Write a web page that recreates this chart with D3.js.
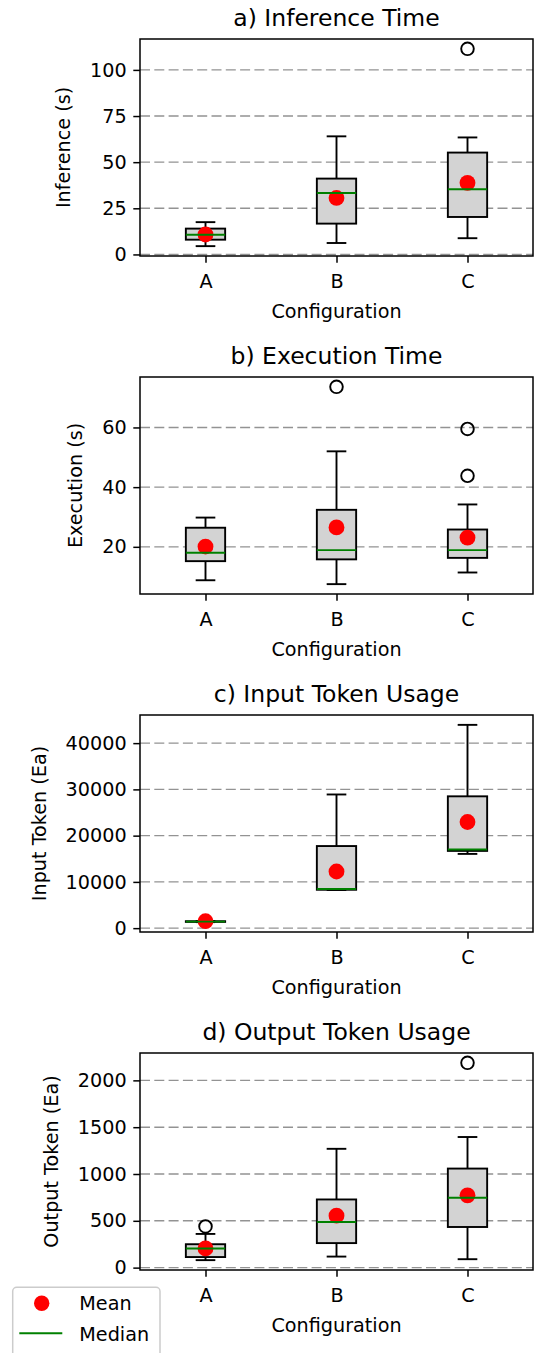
<!DOCTYPE html>
<html>
<head>
<meta charset="utf-8">
<script src="https://cdn.jsdelivr.net/npm/d3@7"></script>
<style>
  html, body { margin: 0; padding: 0; background: #fff; }
  svg { display: block; }
  text { font-family: "DejaVu Sans", sans-serif; fill: #000; }
</style>
</head>
<body>
<svg id="chart" width="540" height="1353"></svg>
<script>
// ---------- data ----------
const categories = ["A", "B", "C"];

const titles = ["a) Inference Time", "b) Execution Time", "c) Input Token Usage", "d) Output Token Usage"];
const yLabels = ["Inference (s)", "Execution (s)", "Input Token (Ea)", "Output Token (Ea)"];
const xLabel = "Configuration";

// five-number summaries [whisker low, Q1, median, Q3, whisker high] per category
const inferenceBox = [[4.5, 8.0, 10.7, 14.0, 17.5], [6.2, 16.7, 33.3, 41.1, 64.0], [8.8, 20.3, 35.3, 55.2, 63.4]];
const inferenceMean = [10.8, 30.6, 38.8];
const inferenceOutliers = [[], [], [111.4]];
const inferenceTicks = [0, 25, 50, 75, 100];

const executionBox = [[8.8, 15.2, 18.0, 26.4, 29.8], [7.5, 15.8, 18.9, 32.4, 52.0], [11.4, 16.3, 18.9, 25.8, 34.2]];
const executionMean = [20.1, 26.5, 23.1];
const executionOutliers = [[], [73.6], [43.8, 59.5]];
const executionTicks = [20, 40, 60];

const inputBox = [[1300, 1350, 1400, 1500, 1550], [8250, 8300, 8450, 17750, 28900], [16050, 16700, 17000, 28500, 43950]];
const inputMean = [1500, 12250, 22950];
const inputOutliers = [[], [], []];
const inputTicks = [0, 10000, 20000, 30000, 40000];

const outputBox = [[80, 113, 205, 250, 360], [118, 262, 488, 728, 1269], [90, 434, 746, 1058, 1395]];
const outputMean = [205, 555, 772];
const outputOutliers = [[440], [], [2187]];
const outputTicks = [0, 500, 1000, 1500, 2000];

const legendLabels = ["Mean", "Median"];

// ---------- assemble ----------
const panels = [
  { box: inferenceBox, mean: inferenceMean, out: inferenceOutliers, ticks: inferenceTicks },
  { box: executionBox, mean: executionMean, out: executionOutliers, ticks: executionTicks },
  { box: inputBox, mean: inputMean, out: inputOutliers, ticks: inputTicks },
  { box: outputBox, mean: outputMean, out: outputOutliers, ticks: outputTicks }
];

const svg = d3.select("#chart");
svg.append("rect").attr("width", 540).attr("height", 1353).attr("fill", "#fff");

const FS = 19.2, TFS = 23.5;
const left = 140, right = 533, panelH = 217, firstTop = 39, period = 338;
const tickLen = 6.7;

panels.forEach((p, i) => {
  const top = firstTop + i * period;
  const bottom = top + panelH;
  const g = svg.append("g");

  const x = d3.scalePoint().domain(categories).range([left, right]).padding(0.5);
  const boxW = x.step() * 0.3;

  const allVals = p.box.flat().concat(p.out.flat()).concat(p.mean);
  const lo = d3.min(allVals), hi = d3.max(allVals);
  const pad = (hi - lo) * 0.05;
  const y = d3.scaleLinear().domain([lo - pad, hi + pad]).range([bottom, top]);

  // grid
  g.append("g").selectAll("line").data(p.ticks).join("line")
    .attr("x1", left).attr("x2", right)
    .attr("y1", d => y(d)).attr("y2", d => y(d))
    .attr("stroke", "#939393").attr("stroke-width", 1.4)
    .attr("stroke-dasharray", "10,4.3");

  const rows = categories.map((c, k) => ({ c, s: p.box[k], m: p.mean[k], o: p.out[k] }));

  // boxes
  g.append("g").selectAll("rect").data(rows).join("rect")
    .attr("x", d => x(d.c) - boxW / 2).attr("width", boxW)
    .attr("y", d => y(d.s[3])).attr("height", d => y(d.s[1]) - y(d.s[3]))
    .attr("fill", "#d3d3d3").attr("stroke", "#000").attr("stroke-width", 1.9);

  // whiskers
  const wg = g.append("g").attr("stroke", "#000").attr("stroke-width", 1.9);
  wg.selectAll("line.lo").data(rows).join("line").attr("class", "lo")
    .attr("x1", d => x(d.c)).attr("x2", d => x(d.c))
    .attr("y1", d => y(d.s[0])).attr("y2", d => y(d.s[1]));
  wg.selectAll("line.hi").data(rows).join("line").attr("class", "hi")
    .attr("x1", d => x(d.c)).attr("x2", d => x(d.c))
    .attr("y1", d => y(d.s[3])).attr("y2", d => y(d.s[4]));
  // caps
  wg.selectAll("line.caplo").data(rows).join("line").attr("class", "caplo")
    .attr("x1", d => x(d.c) - boxW / 4).attr("x2", d => x(d.c) + boxW / 4)
    .attr("y1", d => y(d.s[0])).attr("y2", d => y(d.s[0]));
  wg.selectAll("line.caphi").data(rows).join("line").attr("class", "caphi")
    .attr("x1", d => x(d.c) - boxW / 4).attr("x2", d => x(d.c) + boxW / 4)
    .attr("y1", d => y(d.s[4])).attr("y2", d => y(d.s[4]));

  // outliers
  const fl = rows.flatMap(d => d.o.map(v => ({ c: d.c, v })));
  g.append("g").selectAll("circle").data(fl).join("circle")
    .attr("cx", d => x(d.c)).attr("cy", d => y(d.v)).attr("r", 6.3)
    .attr("fill", "none").attr("stroke", "#000").attr("stroke-width", 1.9);

  // means
  g.append("g").selectAll("circle").data(rows).join("circle")
    .attr("cx", d => x(d.c)).attr("cy", d => y(d.m)).attr("r", 7.9)
    .attr("fill", "#ff0000");

  // medians
  g.append("g").selectAll("line").data(rows).join("line")
    .attr("x1", d => x(d.c) - boxW / 2).attr("x2", d => x(d.c) + boxW / 2)
    .attr("y1", d => y(d.s[2])).attr("y2", d => y(d.s[2]))
    .attr("stroke", "#008000").attr("stroke-width", 1.9);

  // axes
  const ya = g.append("g").attr("transform", `translate(${left},0)`)
    .call(d3.axisLeft(y).tickValues(p.ticks).tickSize(tickLen).tickPadding(6.7).tickFormat(d3.format("d")));
  ya.select(".domain").remove();
  ya.attr("font-family", null).attr("font-size", null);
  ya.selectAll(".tick line").attr("stroke", "#000").attr("stroke-width", 1.5);
  ya.selectAll(".tick text").attr("font-size", FS).attr("fill", "#000");

  const xa = g.append("g").attr("transform", `translate(0,${bottom})`)
    .call(d3.axisBottom(x).tickSize(tickLen).tickPadding(12));
  xa.select(".domain").remove();
  xa.attr("font-family", null).attr("font-size", null);
  xa.selectAll(".tick line").attr("stroke", "#000").attr("stroke-width", 1.5);
  xa.selectAll(".tick text").attr("font-size", FS).attr("fill", "#000");

  // frame
  g.append("rect").attr("x", left).attr("y", top).attr("width", right - left).attr("height", panelH)
    .attr("fill", "none").attr("stroke", "#000").attr("stroke-width", 1.5);

  // labels
  const cx = (left + right) / 2;
  g.append("text").attr("x", cx).attr("y", top - 13).attr("text-anchor", "middle")
    .attr("font-size", TFS).text(titles[i]);
  g.append("text").attr("x", cx).attr("y", bottom + 61.5).attr("text-anchor", "middle")
    .attr("font-size", FS).text(xLabel);

  let minX = Infinity;
  ya.selectAll(".tick text").each(function () {
    const b = this.getBBox();
    const m = this.parentNode.transform.baseVal.consolidate();
    const tx = m ? m.matrix.e : 0;
    minX = Math.min(minX, left + tx + b.x);
  });
  g.append("text")
    .attr("transform", `translate(${minX - 20},${(top + bottom) / 2}) rotate(-90)`)
    .attr("text-anchor", "middle").attr("font-size", FS).text(yLabels[i]);
});

// legend
const lg = svg.append("g");
lg.append("rect").attr("x", 12.7).attr("y", 1287.3).attr("width", 147.3).attr("height", 72).attr("rx", 4)
  .attr("fill", "#fff").attr("fill-opacity", 0.8).attr("stroke", "#cccccc").attr("stroke-width", 1.5);
lg.append("circle").attr("cx", 41.7).attr("cy", 1303.3).attr("r", 7.7).attr("fill", "#ff0000");
lg.append("line").attr("x1", 19.3).attr("x2", 62.3).attr("y1", 1333.3).attr("y2", 1333.3)
  .attr("stroke", "#008000").attr("stroke-width", 1.9);
lg.selectAll("text.lab").data(legendLabels).join("text").attr("class", "lab")
  .attr("x", 79.3).attr("y", (d, k) => 1310 + k * 30.7).attr("font-size", FS).text(d => d);
</script>
</body>
</html>
